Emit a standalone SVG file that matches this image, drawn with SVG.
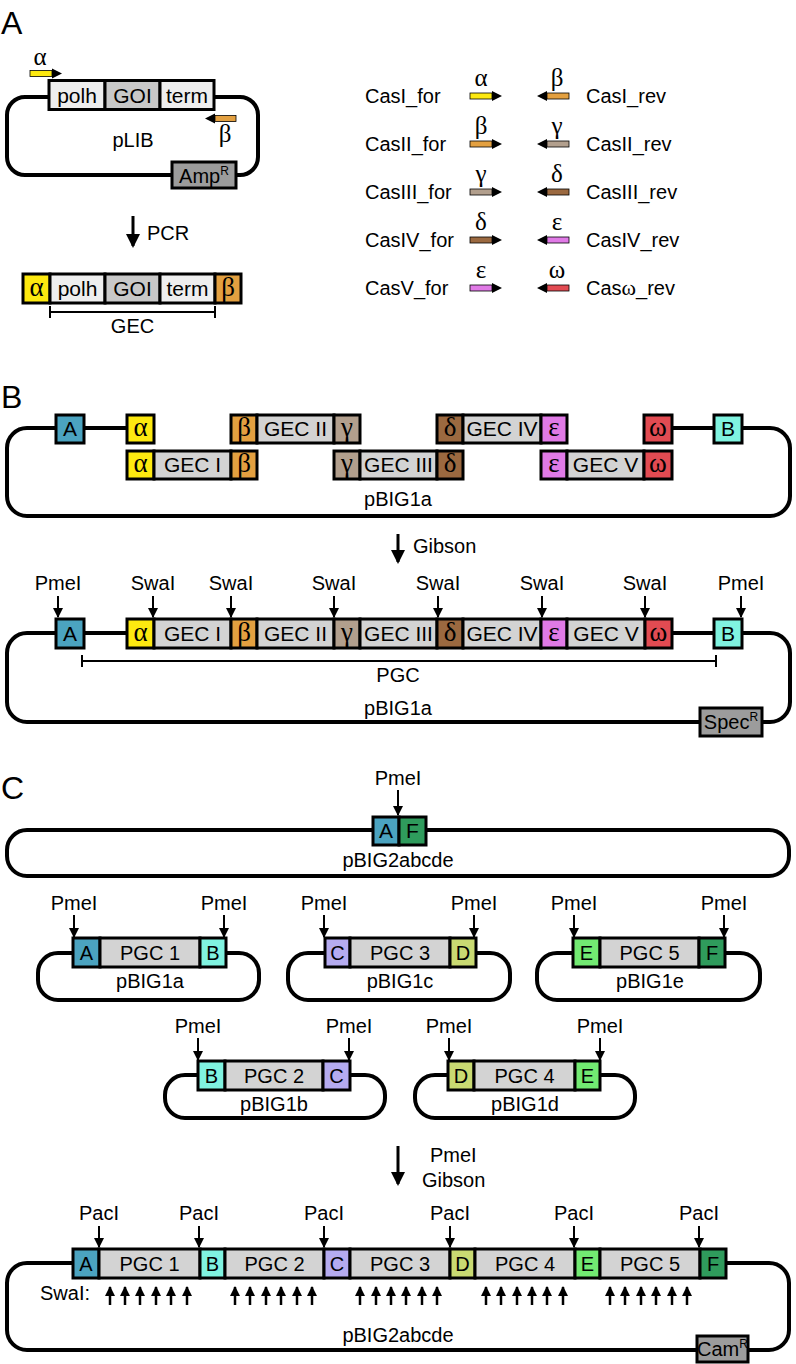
<svg xmlns="http://www.w3.org/2000/svg" width="796" height="1364" viewBox="0 0 796 1364">
<defs>
<style>
.ln{fill:none;stroke:#000;stroke-width:4;stroke-linejoin:round}
.bx{stroke:#000;stroke-width:3}
.t{font-family:"Liberation Sans",Arial,sans-serif;font-size:20px;text-anchor:middle;fill:#000}
.tb{font-family:"Liberation Sans",Arial,sans-serif;font-size:21px;text-anchor:middle;fill:#000}
.ts{font-family:"Liberation Sans",Arial,sans-serif;font-size:20px;fill:#000}
.g{font-family:"Liberation Serif","Times New Roman",serif;font-size:27px;text-anchor:middle;fill:#000}
.gl{font-family:"Liberation Serif","Times New Roman",serif;font-size:25px;text-anchor:middle;fill:#000}
.P{font-family:"Liberation Sans",Arial,sans-serif;font-size:32px;fill:#000}
.cut{stroke:#000;stroke-width:2;marker-end:url(#ah)}
.up{stroke:#000;stroke-width:2.5;marker-end:url(#ah)}
.big{stroke:#000;stroke-width:3;marker-end:url(#bh)}
.br{stroke:#000;stroke-width:2;fill:none}
.pr{stroke:#000;stroke-width:0.8}
.lt{fill:#eeeeee}.gy{fill:#d3d3d3}.dk{fill:#c8c8c8}.res{fill:#9c9c9c}
.cA{fill:#4ba3c0}.cB{fill:#80f3e0}.cC{fill:#b5abf0}.cD{fill:#c9da72}.cE{fill:#72ea72}.cF{fill:#2f9b5c}
.al{fill:#fde910}.be{fill:#e3a040}.ga{fill:#b29f8d}.de{fill:#9b6940}.ep{fill:#e07ae6}.om{fill:#e24b52}
</style>
<marker id="ah" markerUnits="userSpaceOnUse" markerWidth="10" markerHeight="10" refX="9" refY="5" orient="auto"><path d="M0,0 L10,5 L0,10 z"/></marker>
<marker id="bh" markerUnits="userSpaceOnUse" markerWidth="14" markerHeight="14" refX="12" refY="7" orient="auto"><path d="M0,0 L14,7 L0,14 z"/></marker>
</defs>
<rect width="796" height="1364" fill="#fff"/>

<!-- Panel letters -->
<text class="P" x="1" y="34">A</text>
<text class="P" x="1" y="408">B</text>
<text class="P" x="1" y="799">C</text>

<!-- ===== Panel A ===== -->
<g id="pLIB">
<path class="ln" d="M49,97 H25 A18,18 0 0 0 7,115 V157 A18,18 0 0 0 25,175 H240 A18,18 0 0 0 258,157 V115 A18,18 0 0 0 240,97 H214"/>
<rect class="bx lt" x="49" y="80.5" width="56" height="29"/>
<rect class="bx dk" x="105" y="80.5" width="55" height="29"/>
<rect class="bx lt" x="160" y="80.5" width="54" height="29"/>
<text class="tb" x="77" y="103">polh</text>
<text class="tb" x="132.5" y="103">GOI</text>
<text class="tb" x="187" y="103">term</text>
<text class="t" x="133" y="147">pLIB</text>
<rect class="bx res" x="172" y="162" width="64" height="26"/>
<text class="t" x="204" y="183">Amp<tspan font-size="12" dy="-8">R</tspan></text>
<g id="primer-alpha">
<rect class="pr al" x="30" y="70.5" width="22" height="6"/>
<path d="M52,68.5 L62,73.5 L52,78.5 z"/>
<text class="gl" x="40" y="65">α</text>
</g>
<g id="primer-beta">
<path d="M205,118.5 L215,113.5 L215,123.5 z"/>
<rect class="pr be" x="215" y="115.5" width="21" height="6"/>
<text class="gl" x="225" y="142">β</text>
</g>
</g>

<g id="GEC">
<rect class="bx al" x="23" y="274" width="27" height="29"/>
<rect class="bx lt" x="50" y="274" width="55" height="29"/>
<rect class="bx dk" x="105" y="274" width="55" height="29"/>
<rect class="bx lt" x="160" y="274" width="55" height="29"/>
<rect class="bx be" x="215" y="274" width="26" height="29"/>
<text class="g" x="36.5" y="296">α</text>
<text class="tb" x="77.5" y="296">polh</text>
<text class="tb" x="132.5" y="296">GOI</text>
<text class="tb" x="187.5" y="296">term</text>
<text class="g" x="228" y="296">β</text>
<path class="br" d="M50,312 H215 M50,306 V318 M215,306 V318"/>
<text class="t" x="132.5" y="333">GEC</text>
</g>

<g id="primer-table">
<g id="row1">
<text class="ts" x="365" y="103">CasI_for</text>
<rect class="pr al" x="470" y="93" width="22" height="6"/><path d="M492,91 L502,96 L492,101 z"/>
<text class="gl" x="481" y="86">α</text>
<path d="M537,96 L547,91 L547,101 z"/><rect class="pr be" x="547" y="93" width="22" height="6"/>
<text class="gl" x="557" y="86">β</text>
<text class="ts" x="586" y="103">CasI_rev</text>
</g>
<g id="row2">
<text class="ts" x="365" y="151">CasII_for</text>
<rect class="pr be" x="470" y="141" width="22" height="6"/><path d="M492,139 L502,144 L492,149 z"/>
<text class="gl" x="481" y="134">β</text>
<path d="M537,144 L547,139 L547,149 z"/><rect class="pr ga" x="547" y="141" width="22" height="6"/>
<text class="gl" x="557" y="134">γ</text>
<text class="ts" x="586" y="151">CasII_rev</text>
</g>
<g id="row3">
<text class="ts" x="365" y="199">CasIII_for</text>
<rect class="pr ga" x="470" y="189" width="22" height="6"/><path d="M492,187 L502,192 L492,197 z"/>
<text class="gl" x="481" y="182">γ</text>
<path d="M537,192 L547,187 L547,197 z"/><rect class="pr de" x="547" y="189" width="22" height="6"/>
<text class="gl" x="557" y="182">δ</text>
<text class="ts" x="586" y="199">CasIII_rev</text>
</g>
<g id="row4">
<text class="ts" x="365" y="247">CasIV_for</text>
<rect class="pr de" x="470" y="237" width="22" height="6"/><path d="M492,235 L502,240 L492,245 z"/>
<text class="gl" x="481" y="230">δ</text>
<path d="M537,240 L547,235 L547,245 z"/><rect class="pr ep" x="547" y="237" width="22" height="6"/>
<text class="gl" x="557" y="230">ε</text>
<text class="ts" x="586" y="247">CasIV_rev</text>
</g>
<g id="row5">
<text class="ts" x="365" y="295">CasV_for</text>
<rect class="pr ep" x="470" y="285" width="22" height="6"/><path d="M492,283 L502,288 L492,293 z"/>
<text class="gl" x="481" y="278">ε</text>
<path d="M537,288 L547,283 L547,293 z"/><rect class="pr om" x="547" y="285" width="22" height="6"/>
<text class="gl" x="557" y="278">ω</text>
<text class="ts" x="586" y="295">Cas<tspan font-family="Liberation Serif, serif" font-size="22">ω</tspan>_rev</text>
</g>
</g>

<!-- ===== Panel B ===== -->
<g id="pBIG1a-parts">
<path class="ln" d="M56,428 H27 A20,20 0 0 0 7,448 V496 A20,20 0 0 0 27,516 H770 A20,20 0 0 0 790,496 V448 A20,20 0 0 0 770,428 H742 M84,428 H127 M672,428 H714"/>
<rect class="bx cA" x="56" y="415" width="28" height="28"/><text class="tb" x="70" y="436">A</text>
<rect class="bx al" x="127" y="415" width="27" height="28"/><text class="g" x="140.5" y="436">α</text>
<rect class="bx be" x="231" y="415" width="26" height="28"/><text class="g" x="244" y="436">β</text>
<rect class="bx gy" x="257" y="415" width="77" height="28"/><text class="tb" x="295.5" y="436">GEC II</text>
<rect class="bx ga" x="334" y="415" width="26" height="28"/><text class="g" x="347" y="436">γ</text>
<rect class="bx de" x="437" y="415" width="26" height="28"/><text class="g" x="450" y="436">δ</text>
<rect class="bx gy" x="463" y="415" width="78" height="28"/><text class="tb" x="502" y="436">GEC IV</text>
<rect class="bx ep" x="541" y="415" width="26" height="28"/><text class="g" x="554" y="436">ε</text>
<rect class="bx om" x="644" y="415" width="28" height="28"/><text class="g" x="658" y="436">ω</text>
<rect class="bx cB" x="714" y="415" width="28" height="28"/><text class="tb" x="728" y="436">B</text>
<rect class="bx al" x="127" y="451" width="27" height="28"/><text class="g" x="140.5" y="472">α</text>
<rect class="bx gy" x="154" y="451" width="77" height="28"/><text class="tb" x="192.5" y="472">GEC I</text>
<rect class="bx be" x="231" y="451" width="26" height="28"/><text class="g" x="244" y="472">β</text>
<rect class="bx ga" x="334" y="451" width="26" height="28"/><text class="g" x="347" y="472">γ</text>
<rect class="bx gy" x="360" y="451" width="77" height="28"/><text class="tb" x="398.5" y="472">GEC III</text>
<rect class="bx de" x="437" y="451" width="26" height="28"/><text class="g" x="450" y="472">δ</text>
<rect class="bx ep" x="541" y="451" width="26" height="28"/><text class="g" x="554" y="472">ε</text>
<rect class="bx gy" x="567" y="451" width="77" height="28"/><text class="tb" x="605.5" y="472">GEC V</text>
<rect class="bx om" x="644" y="451" width="28" height="28"/><text class="g" x="658" y="472">ω</text>
<text class="t" x="398" y="506">pBIG1a</text>
</g>

<g id="pBIG1a-assembled">
<path class="ln" d="M56,633 H27 A20,20 0 0 0 7,653 V702 A20,20 0 0 0 27,722 H770 A20,20 0 0 0 790,702 V653 A20,20 0 0 0 770,633 H742 M84,633 H127 M672,633 H714"/>
<rect class="bx cA" x="56" y="619" width="28" height="29"/><text class="tb" x="70" y="641">A</text>
<rect class="bx al" x="127" y="619" width="27" height="29"/><text class="g" x="140.5" y="641">α</text>
<rect class="bx gy" x="154" y="619" width="77" height="29"/><text class="tb" x="192.5" y="641">GEC I</text>
<rect class="bx be" x="231" y="619" width="26" height="29"/><text class="g" x="244" y="641">β</text>
<rect class="bx gy" x="257" y="619" width="77" height="29"/><text class="tb" x="295.5" y="641">GEC II</text>
<rect class="bx ga" x="334" y="619" width="26" height="29"/><text class="g" x="347" y="641">γ</text>
<rect class="bx gy" x="360" y="619" width="77" height="29"/><text class="tb" x="398.5" y="641">GEC III</text>
<rect class="bx de" x="437" y="619" width="26" height="29"/><text class="g" x="450" y="641">δ</text>
<rect class="bx gy" x="463" y="619" width="78" height="29"/><text class="tb" x="502" y="641">GEC IV</text>
<rect class="bx ep" x="541" y="619" width="26" height="29"/><text class="g" x="554" y="641">ε</text>
<rect class="bx gy" x="567" y="619" width="78" height="29"/><text class="tb" x="606" y="641">GEC V</text>
<rect class="bx om" x="645" y="619" width="27" height="29"/><text class="g" x="658.5" y="641">ω</text>
<rect class="bx cB" x="714" y="619" width="28" height="29"/><text class="tb" x="728" y="641">B</text>
<path class="br" d="M82,661 H716 M82,655 V667 M716,655 V667"/>
<text class="t" x="398" y="682">PGC</text>
<text class="t" x="398" y="715">pBIG1a</text>
<rect class="bx res" x="700" y="708" width="62" height="28"/>
<text class="t" x="731" y="729">Spec<tspan font-size="12" dy="-8">R</tspan></text>
</g>

<!-- ===== Panel C ===== -->
<g id="pBIG2abcde-acceptor">
<path class="ln" d="M373,830 H27 A20,20 0 0 0 7,850 V856 A20,20 0 0 0 27,876 H769 A20,20 0 0 0 789,856 V850 A20,20 0 0 0 769,830 H426"/>
<rect class="bx cA" x="373" y="817" width="26" height="28"/><text class="tb" x="386" y="838">A</text>
<rect class="bx cF" x="399" y="817" width="27" height="28"/><text class="tb" x="412.5" y="838">F</text>
<text class="t" x="398" y="867">pBIG2abcde</text>
</g>

<g id="pBIG1a">
<path class="ln" d="M73,953 H58 A20,20 0 0 0 38,973 V980 A20,20 0 0 0 58,1000 H239 A20,20 0 0 0 259,980 V973 A20,20 0 0 0 239,953 H226"/>
<rect class="bx cA" x="73" y="938" width="27" height="29"/><text class="t" x="86.5" y="960">A</text>
<rect class="bx gy" x="100" y="938" width="100" height="29"/><text class="t" x="150" y="960">PGC 1</text>
<rect class="bx cB" x="200" y="938" width="26" height="29"/><text class="t" x="213" y="960">B</text>
<text class="t" x="150" y="988">pBIG1a</text>
</g>
<g id="pBIG1c">
<path class="ln" d="M325,953 H308 A20,20 0 0 0 288,973 V980 A20,20 0 0 0 308,1000 H490 A20,20 0 0 0 510,980 V973 A20,20 0 0 0 490,953 H476"/>
<rect class="bx cC" x="325" y="938" width="25" height="29"/><text class="t" x="337.5" y="960">C</text>
<rect class="bx gy" x="350" y="938" width="100" height="29"/><text class="t" x="400" y="960">PGC 3</text>
<rect class="bx cD" x="450" y="938" width="26" height="29"/><text class="t" x="463" y="960">D</text>
<text class="t" x="400" y="988">pBIG1c</text>
</g>
<g id="pBIG1e">
<path class="ln" d="M573,953 H557 A20,20 0 0 0 537,973 V980 A20,20 0 0 0 557,1000 H740 A20,20 0 0 0 760,980 V973 A20,20 0 0 0 740,953 H725"/>
<rect class="bx cE" x="573" y="938" width="27" height="29"/><text class="t" x="586.5" y="960">E</text>
<rect class="bx gy" x="600" y="938" width="99" height="29"/><text class="t" x="649.5" y="960">PGC 5</text>
<rect class="bx cF" x="699" y="938" width="26" height="29"/><text class="t" x="712" y="960">F</text>
<text class="t" x="650" y="988">pBIG1e</text>
</g>
<g id="pBIG1b">
<path class="ln" d="M198,1075 H185 A20,20 0 0 0 165,1095 V1098 A20,20 0 0 0 185,1118 H365 A20,20 0 0 0 385,1098 V1095 A20,20 0 0 0 365,1075 H350"/>
<rect class="bx cB" x="198" y="1061" width="27" height="29"/><text class="t" x="211.5" y="1083">B</text>
<rect class="bx gy" x="225" y="1061" width="98" height="29"/><text class="t" x="274" y="1083">PGC 2</text>
<rect class="bx cC" x="323" y="1061" width="27" height="29"/><text class="t" x="336.5" y="1083">C</text>
<text class="t" x="274" y="1111">pBIG1b</text>
</g>
<g id="pBIG1d">
<path class="ln" d="M448,1075 H435 A20,20 0 0 0 415,1095 V1098 A20,20 0 0 0 435,1118 H615 A20,20 0 0 0 635,1098 V1095 A20,20 0 0 0 615,1075 H600"/>
<rect class="bx cD" x="448" y="1061" width="26" height="29"/><text class="t" x="461" y="1083">D</text>
<rect class="bx gy" x="474" y="1061" width="101" height="29"/><text class="t" x="524.5" y="1083">PGC 4</text>
<rect class="bx cE" x="575" y="1061" width="25" height="29"/><text class="t" x="587.5" y="1083">E</text>
<text class="t" x="525" y="1111">pBIG1d</text>
</g>

<g id="pBIG2abcde-assembled">
<path class="ln" d="M73,1263 H27 A20,20 0 0 0 7,1283 V1330 A20,20 0 0 0 27,1350 H769 A20,20 0 0 0 789,1330 V1283 A20,20 0 0 0 769,1263 H726"/>
<rect class="bx cA" x="73" y="1249" width="26" height="29"/><text class="t" x="86" y="1271">A</text>
<rect class="bx gy" x="99" y="1249" width="101" height="29"/><text class="t" x="149.5" y="1271">PGC 1</text>
<rect class="bx cB" x="200" y="1249" width="25" height="29"/><text class="t" x="212.5" y="1271">B</text>
<rect class="bx gy" x="225" y="1249" width="99" height="29"/><text class="t" x="274.5" y="1271">PGC 2</text>
<rect class="bx cC" x="324" y="1249" width="26" height="29"/><text class="t" x="337" y="1271">C</text>
<rect class="bx gy" x="350" y="1249" width="100" height="29"/><text class="t" x="400" y="1271">PGC 3</text>
<rect class="bx cD" x="450" y="1249" width="25" height="29"/><text class="t" x="462.5" y="1271">D</text>
<rect class="bx gy" x="475" y="1249" width="100" height="29"/><text class="t" x="525" y="1271">PGC 4</text>
<rect class="bx cE" x="575" y="1249" width="25" height="29"/><text class="t" x="587.5" y="1271">E</text>
<rect class="bx gy" x="600" y="1249" width="100" height="29"/><text class="t" x="650" y="1271">PGC 5</text>
<rect class="bx cF" x="700" y="1249" width="26" height="29"/><text class="t" x="713" y="1271">F</text>
<text class="ts" x="40" y="1300">SwaI:</text>
<text class="t" x="398" y="1342">pBIG2abcde</text>
<rect class="bx res" x="697" y="1336" width="51" height="26"/>
<text class="t" x="722.5" y="1356" font-size="19">Cam<tspan font-size="12" dy="-8">R</tspan></text>
</g>

<!-- ===== Connectors: cut sites and process arrows ===== -->
<g id="connectors">
<line class="big" x1="133" y1="216" x2="133" y2="246"/>
<text class="ts" x="147" y="240">PCR</text>
<line class="big" x1="398" y1="534" x2="398" y2="562"/>
<text class="ts" x="413" y="553">Gibson</text>
<line class="big" x1="398" y1="1146" x2="398" y2="1184"/>
<text class="ts" x="430" y="1162">PmeI</text>
<text class="ts" x="422" y="1187">Gibson</text>

<g id="cuts-B">
<line class="cut" x1="58" y1="596" x2="58" y2="617"/><text class="t" x="58" y="590">PmeI</text>
<line class="cut" x1="153" y1="596" x2="153" y2="617"/><text class="t" x="153" y="590">SwaI</text>
<line class="cut" x1="231" y1="596" x2="231" y2="617"/><text class="t" x="231" y="590">SwaI</text>
<line class="cut" x1="334" y1="596" x2="334" y2="617"/><text class="t" x="334" y="590">SwaI</text>
<line class="cut" x1="438" y1="596" x2="438" y2="617"/><text class="t" x="438" y="590">SwaI</text>
<line class="cut" x1="542" y1="596" x2="542" y2="617"/><text class="t" x="542" y="590">SwaI</text>
<line class="cut" x1="645" y1="596" x2="645" y2="617"/><text class="t" x="645" y="590">SwaI</text>
<line class="cut" x1="741" y1="596" x2="741" y2="617"/><text class="t" x="741" y="590">PmeI</text>
</g>
<g id="cuts-C">
<line class="cut" x1="398" y1="790" x2="398" y2="815"/><text class="t" x="398" y="785">PmeI</text>
<line class="cut" x1="74" y1="915" x2="74" y2="937"/><text class="t" x="74" y="910">PmeI</text>
<line class="cut" x1="224" y1="915" x2="224" y2="937"/><text class="t" x="224" y="910">PmeI</text>
<line class="cut" x1="324" y1="915" x2="324" y2="937"/><text class="t" x="324" y="910">PmeI</text>
<line class="cut" x1="474" y1="915" x2="474" y2="937"/><text class="t" x="474" y="910">PmeI</text>
<line class="cut" x1="574" y1="915" x2="574" y2="937"/><text class="t" x="574" y="910">PmeI</text>
<line class="cut" x1="724" y1="915" x2="724" y2="937"/><text class="t" x="724" y="910">PmeI</text>
<line class="cut" x1="198" y1="1038" x2="198" y2="1060"/><text class="t" x="198" y="1033">PmeI</text>
<line class="cut" x1="349" y1="1038" x2="349" y2="1060"/><text class="t" x="349" y="1033">PmeI</text>
<line class="cut" x1="449" y1="1038" x2="449" y2="1060"/><text class="t" x="449" y="1033">PmeI</text>
<line class="cut" x1="600" y1="1038" x2="600" y2="1060"/><text class="t" x="600" y="1033">PmeI</text>
<line class="cut" x1="99" y1="1226" x2="99" y2="1247"/><text class="t" x="99" y="1220">PacI</text>
<line class="cut" x1="199" y1="1226" x2="199" y2="1247"/><text class="t" x="199" y="1220">PacI</text>
<line class="cut" x1="324" y1="1226" x2="324" y2="1247"/><text class="t" x="324" y="1220">PacI</text>
<line class="cut" x1="450" y1="1226" x2="450" y2="1247"/><text class="t" x="450" y="1220">PacI</text>
<line class="cut" x1="574" y1="1226" x2="574" y2="1247"/><text class="t" x="574" y="1220">PacI</text>
<line class="cut" x1="699" y1="1226" x2="699" y2="1247"/><text class="t" x="699" y="1220">PacI</text>
</g>
<g id="swai-sites">
<line class="up" x1="110" y1="1305" x2="110" y2="1287"/><line class="up" x1="125" y1="1305" x2="125" y2="1287"/><line class="up" x1="140" y1="1305" x2="140" y2="1287"/><line class="up" x1="156" y1="1305" x2="156" y2="1287"/><line class="up" x1="171" y1="1305" x2="171" y2="1287"/><line class="up" x1="187" y1="1305" x2="187" y2="1287"/>
<line class="up" x1="235" y1="1305" x2="235" y2="1287"/><line class="up" x1="250" y1="1305" x2="250" y2="1287"/><line class="up" x1="266" y1="1305" x2="266" y2="1287"/><line class="up" x1="281" y1="1305" x2="281" y2="1287"/><line class="up" x1="297" y1="1305" x2="297" y2="1287"/><line class="up" x1="312" y1="1305" x2="312" y2="1287"/>
<line class="up" x1="360" y1="1305" x2="360" y2="1287"/><line class="up" x1="376" y1="1305" x2="376" y2="1287"/><line class="up" x1="391" y1="1305" x2="391" y2="1287"/><line class="up" x1="406" y1="1305" x2="406" y2="1287"/><line class="up" x1="422" y1="1305" x2="422" y2="1287"/><line class="up" x1="437" y1="1305" x2="437" y2="1287"/>
<line class="up" x1="486" y1="1305" x2="486" y2="1287"/><line class="up" x1="501" y1="1305" x2="501" y2="1287"/><line class="up" x1="517" y1="1305" x2="517" y2="1287"/><line class="up" x1="532" y1="1305" x2="532" y2="1287"/><line class="up" x1="547" y1="1305" x2="547" y2="1287"/><line class="up" x1="563" y1="1305" x2="563" y2="1287"/>
<line class="up" x1="610" y1="1305" x2="610" y2="1287"/><line class="up" x1="625" y1="1305" x2="625" y2="1287"/><line class="up" x1="641" y1="1305" x2="641" y2="1287"/><line class="up" x1="656" y1="1305" x2="656" y2="1287"/><line class="up" x1="672" y1="1305" x2="672" y2="1287"/><line class="up" x1="687" y1="1305" x2="687" y2="1287"/>
</g>
</g>
</svg>
